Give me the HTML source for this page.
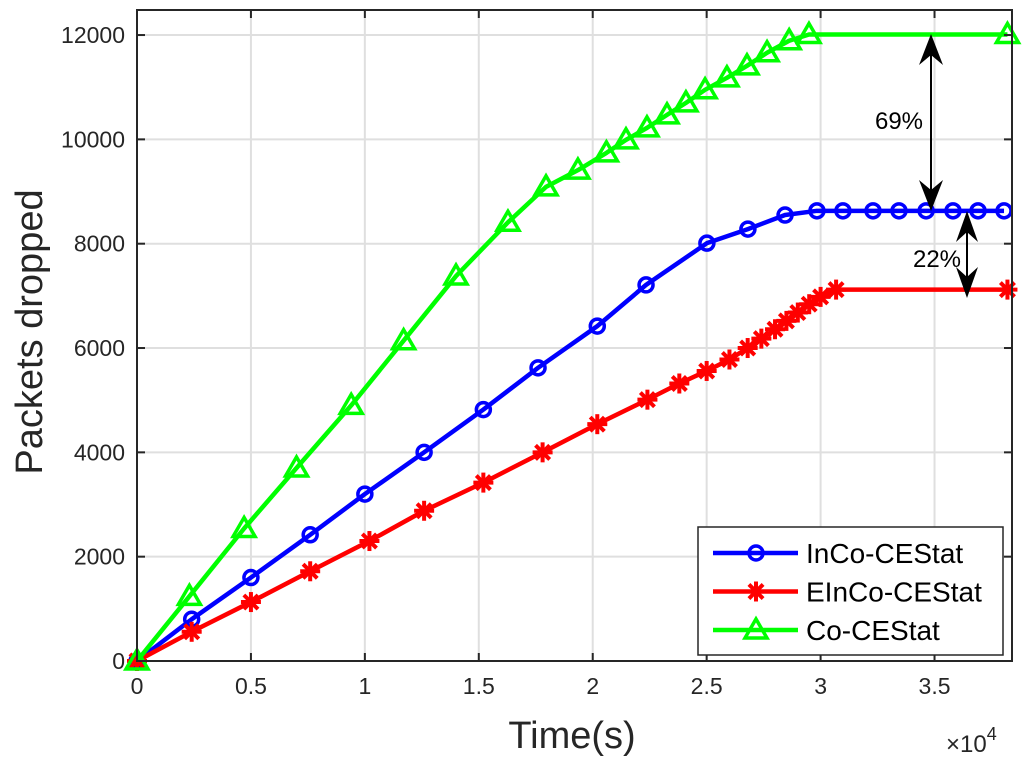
<!DOCTYPE html>
<html><head><meta charset="utf-8"><style>
body{margin:0;background:#fff;}
svg{display:block;font-family:"Liberation Sans",sans-serif;}
</style></head><body>
<svg id="chart" width="1024" height="760">
<g id="grid"></g>
<g id="series"></g>
<g id="axes"></g>
<g>
<line x1="931" y1="40" x2="931" y2="206" stroke="#000" stroke-width="2"/>
<polygon points="931,34 919,65 931,55 943,65" fill="#000"/>
<polygon points="931,211 919,180 931,190 943,180" fill="#000"/>
<text x="899" y="129" font-size="24" text-anchor="middle">69%</text>
</g>
<g>
<line x1="967" y1="216" x2="967" y2="293" stroke="#000" stroke-width="2"/>
<polygon points="967,211 956,242 967,232 978,242" fill="#000"/>
<polygon points="967,298 956,267 967,277 978,267" fill="#000"/>
<text x="937" y="267" font-size="24" text-anchor="middle">22%</text>
</g>
<g>
<rect x="698" y="527" width="305" height="128" fill="#fff" stroke="#262626" stroke-width="1.5"/>
<g id="legend-items"></g>
</g>
<text x="572" y="748" font-size="38" text-anchor="middle" fill="#262626">Time(s)</text>
<text transform="translate(42,332) rotate(-90)" font-size="38" text-anchor="middle" fill="#262626">Packets dropped</text>
<text x="946" y="752" font-size="24" fill="#262626">×10<tspan dy="-12" font-size="18">4</tspan></text>
</svg>
<script>
const xTicks=[0,5000,10000,15000,20000,25000,30000,35000];
const xTickLabels=["0","0.5","1","1.5","2","2.5","3","3.5"];
const yTicks=[0,2000,4000,6000,8000,10000,12000];
const yTickLabels=["0","2000","4000","6000","8000","10000","12000"];
const seriesNames=["InCo-CEStat","EInCo-CEStat","Co-CEStat"];
const blueX=[0,2400,5000,7600,10000,12600,15200,17600,20200,22340,25010,26810,28440,29840,30980,32300,33440,34630,35810,36910,38050];
const blueY=[0,800,1600,2420,3200,4000,4820,5620,6420,7210,8010,8280,8550,8630,8630,8630,8630,8630,8630,8630,8630];
const redX=[0,2400,5000,7600,10200,12600,15200,17800,20200,22400,23800,25000,26000,26800,27400,28000,28500,29000,29500,30000,30680,38200];
const redY=[0,560,1130,1720,2300,2880,3420,4000,4540,5010,5320,5560,5780,6000,6180,6360,6520,6680,6840,6980,7120,7120];
const greenX=[0,2300,4700,7000,9400,11700,14000,16280,17950,19350,20600,21460,22380,23260,24090,24930,25890,26770,27650,28620,29490,38200];
const greenY=[0,1240,2540,3700,4900,6140,7380,8410,9090,9410,9740,9990,10220,10470,10700,10950,11180,11410,11660,11890,12010,12010];
const X0=137,X1=1012,Y0=661,Y1=10,XMAX=38400,YMAX=12480;
const sx=v=>X0+v/XMAX*(X1-X0);
const sy=v=>Y0-v/YMAX*(Y0-Y1);
const NS="http://www.w3.org/2000/svg";
function mk(tag,attrs,parent){const e=document.createElementNS(NS,tag);for(const k in attrs)e.setAttribute(k,attrs[k]);parent.appendChild(e);return e;}
const grid=document.getElementById('grid'),axes=document.getElementById('axes'),ser=document.getElementById('series');
xTicks.forEach((t,i)=>{
 const g=mk('line',{x1:sx(t),x2:sx(t),y1:Y1,y2:Y0,stroke:'#dfdfdf','stroke-width':2},grid);
 
 
 mk('line',{x1:sx(t),x2:sx(t),y1:Y0,y2:Y0-8,stroke:'#262626','stroke-width':2},axes);
 mk('line',{x1:sx(t),x2:sx(t),y1:Y1,y2:Y1+8,stroke:'#262626','stroke-width':2},axes);
 const tx=mk('text',{x:sx(t),y:Y0+33,'font-size':23,'text-anchor':'middle',fill:'#262626'},axes);
 tx.textContent=xTickLabels[i];
 
 
});
yTicks.forEach((t,i)=>{
 const g=mk('line',{x1:X0,x2:X1,y1:sy(t),y2:sy(t),stroke:'#dfdfdf','stroke-width':2},grid);
 
 
 mk('line',{x1:X0,x2:X0+8,y1:sy(t),y2:sy(t),stroke:'#262626','stroke-width':2},axes);
 mk('line',{x1:X1,x2:X1-8,y1:sy(t),y2:sy(t),stroke:'#262626','stroke-width':2},axes);
 const tx=mk('text',{x:X0-12,y:sy(t)+8,'font-size':23,'text-anchor':'end',fill:'#262626'},axes);
 tx.textContent=yTickLabels[i];
 
 
});
mk('rect',{x:X0,y:Y1,width:X1-X0,height:Y0-Y1,fill:'none',stroke:'#262626','stroke-width':2},axes);
function marker(type,x,y,color,parent){
 if(type==='o')return mk('circle',{cx:x,cy:y,r:7,fill:'none',stroke:color,'stroke-width':3.5},parent);
 if(type==='^')return mk('polygon',{points:`${x},${y-11} ${x-11},${y+8} ${x+11},${y+8}`,fill:'none',stroke:color,'stroke-width':3.5},parent);
 const g=mk('g',{stroke:color,'stroke-width':4},parent);
 for(let a=0;a<4;a++){const r=a*Math.PI/4,dx=10*Math.cos(r),dy=10*Math.sin(r);mk('line',{x1:x-dx,y1:y-dy,x2:x+dx,y2:y+dy},g);}
 return g;
}
const defs=[[blueX,blueY,'#0000ff','o','inco-cestat'],[redX,redY,'#ff0000','*','einco-cestat'],[greenX,greenY,'#00ff00','^','co-cestat']];
defs.forEach(([xs,ys,c,m,n])=>{
 const g=mk('g',{},ser);
 
 
 const p=mk('polyline',{points:xs.map((x,i)=>sx(x)+','+sy(ys[i])).join(' '),fill:'none',stroke:c,'stroke-width':4.5,'stroke-linejoin':'round'},g);
 
 
 xs.forEach((x,i)=>{const mm=marker(m,sx(x),sy(ys[i]),c,g);
  
  });
});
const li=document.getElementById('legend-items');
defs.forEach(([xs,ys,c,m,n],i)=>{
 const y=553+i*38.5;
 const g=mk('g',{},li);
 
 
 mk('line',{x1:713,x2:798,y1:y,y2:y,stroke:c,'stroke-width':4.5},g);
 marker(m,756,y,c,g);
 const t=mk('text',{x:806,y:y+10,'font-size':28,fill:'#000'},g);
 t.textContent=seriesNames[i];
});
</script>
</body></html>
